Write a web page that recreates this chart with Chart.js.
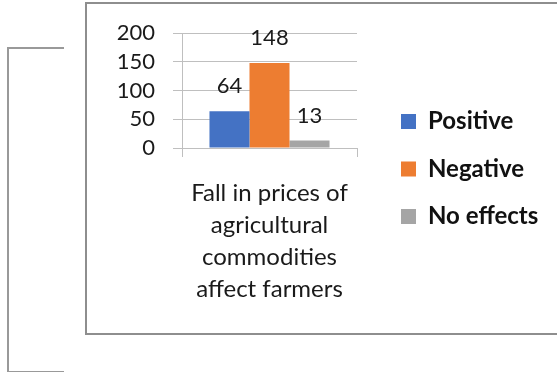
<!DOCTYPE html>
<html>
<head>
<meta charset="utf-8">
<script src="https://cdn.jsdelivr.net/npm/chart.js@4"></script>
<style>
  html, body { margin: 0; padding: 0; background: #fff; overflow: hidden; }
  body { width: 557px; height: 372px; position: relative; }
  #wrap { position: absolute; left: 0; top: 0; width: 600px; height: 372px; }
  .frame { position: absolute; left: 85px; top: 2px; width: 600px; height: 329px; border: 2px solid #8e8e8e; }
  .brk { position: absolute; left: 7px; top: 47px; width: 55px; height: 322px; border: 2px solid #999; border-right: none; }
</style>
</head>
<body>
<div class="brk"></div>
<div class="frame"></div>
<div id="wrap"><canvas id="chart"></canvas></div>
<script>
const categories = [['Fall in prices of', 'agricultural', 'commodities', 'affect farmers']];
const seriesNames = ['Positive', 'Negative', 'No effects'];
const positiveValues = [64];
const negativeValues = [148];
const noEffectValues = [13];
const yTicks = [0, 50, 100, 150, 200];
const colors = ['#4472c4', '#ed7d31', '#a5a5a5'];

const fontFamily = 'Lato, "Open Sans", sans-serif';

// value labels above each bar
const barLabels = {
    id: 'barLabels',
    afterDatasetsDraw(chart) {
        const ctx = chart.ctx;
        ctx.save();
        ctx.font = '22px ' + fontFamily;
        ctx.fillStyle = '#1a1a1a';
        ctx.textAlign = 'center';
        ctx.textBaseline = 'middle';
        chart.data.datasets.forEach((ds, i) => {
            chart.getDatasetMeta(i).data.forEach((bar, j) => {
                ctx.fillText(ds.data[j], bar.x, bar.y - 25);
            });
        });
        ctx.restore();
    }
};

const seriesData = [positiveValues, negativeValues, noEffectValues];

new Chart(document.getElementById('chart'), {
    type: 'bar',
    data: {
        labels: categories,
        datasets: seriesNames.map((name, i) => ({
            label: name,
            data: seriesData[i],
            backgroundColor: colors[i],
            borderWidth: 0,
            categoryPercentage: 0.686,
            barPercentage: 1.0
        }))
    },
    options: {
        responsive: true,
        maintainAspectRatio: false,
        animation: false,
        layout: { padding: { left: 100, top: 33, right: 52.5, bottom: 67 } },
        plugins: {
            tooltip: { enabled: false },
            legend: {
                position: 'right',
                maxWidth: 170,
                labels: {
                    boxWidth: 15,
                    boxHeight: 15,
                    padding: 23.5,
                    color: '#111',
                    font: { family: fontFamily, size: 24, weight: 'bold' }
                }
            }
        },
        scales: {
            x: {
                grid: { display: true, drawOnChartArea: false, drawTicks: true, tickLength: 9, color: '#bfbfbf' },
                border: { display: true, color: '#bfbfbf' },
                ticks: {
                    color: '#1a1a1a',
                    padding: 20,
                    maxRotation: 0,
                    font: { family: fontFamily, size: 24, lineHeight: '32px' }
                },
                afterFit: s => { s.height = 157; }
            },
            y: {
                min: 0,
                max: 200,
                afterBuildTicks: s => { s.ticks = yTicks.map(v => ({ value: v })); },
                grid: { color: '#bfbfbf', tickLength: 9 },
                border: { display: true, color: '#bfbfbf' },
                ticks: {
                    color: '#1a1a1a',
                    padding: 18,
                    autoSkip: false,
                    font: { family: fontFamily, size: 22 }
                },
                afterFit: s => { s.width = 82; }
            },
            gap: {
                type: 'linear',
                position: 'right',
                grid: { display: false },
                border: { display: false },
                ticks: { display: false },
                afterFit: s => { s.width = 20.5; }
            }
        }
    },
    plugins: [barLabels]
});
</script>
</body>
</html>
